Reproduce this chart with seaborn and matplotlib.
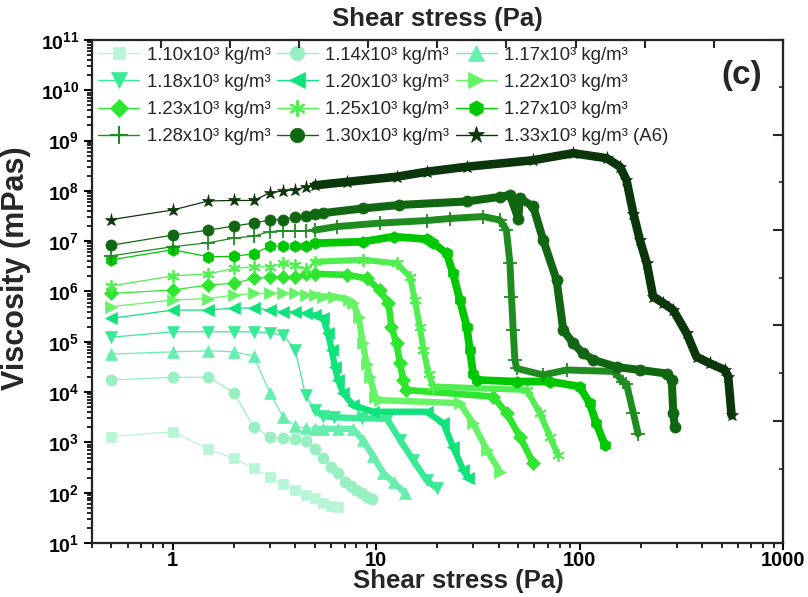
import numpy as np
import pandas as pd
import matplotlib
matplotlib.use("Agg")
import matplotlib.pyplot as plt
from matplotlib.ticker import FixedLocator, LogLocator, NullFormatter, FuncFormatter
from matplotlib.lines import Line2D
import seaborn as sns

# ---- data: shear stress (Pa) and viscosity (mPas) per slurry density ----
densities = ["1.10", "1.14", "1.17", "1.18", "1.20", "1.22",
             "1.23", "1.25", "1.27", "1.28", "1.30", "1.33"]

stress_110 = [0.5, 1.0, 1.5, 2.0, 2.5, 3.0, 3.5, 4.0, 4.5, 5.0, 5.5, 6.0, 6.5]
visc_110 = [1300, 1630, 730, 480, 305, 208, 148, 112, 90, 77, 63, 55, 51]

stress_114 = [0.5, 1.0, 1.5, 2.0, 2.5, 3.0, 3.5, 4.0, 4.5, 5.0, 5.5, 6.0, 6.5,
              7.0, 7.5, 8.0, 8.5, 9.0, 9.5]
visc_114 = [17400, 19700, 19700, 9800, 2040, 1290, 1200, 1150, 1070, 740, 480,
            330, 243, 166, 135, 112, 98, 83, 74]

stress_117 = [0.5, 1.0, 1.5, 2.0, 2.5, 3.0, 3.5, 4.0, 4.5, 5.0, 5.5, 6.5, 7.7,
              8.6, 9.7, 10.85, 12.2, 13.9]
visc_117 = [57100, 63100, 66100, 63100, 52500, 9800, 3160, 2140, 1900, 1870,
            1860, 1860, 1860, 1120, 525, 245, 160, 98]

stress_118 = [0.5, 1.0, 1.5, 2.0, 2.5, 3.0, 3.5, 4.0, 4.5, 5.0, 5.5, 6.2, 8.5,
              11.3, 13.1, 15.2, 17.7, 19.9]
visc_118 = [123000, 158000, 158000, 158000, 158000, 151000, 135000, 69200,
            8710, 4370, 3310, 3160, 3020, 2950, 1120, 447, 178, 123]

stress_120 = [0.5, 1.0, 1.5, 2.0, 2.5, 3.0, 3.5, 4.0, 4.5, 5.0, 5.5, 5.8, 6.05,
              6.27, 6.5, 6.9, 7.7, 9.7, 17.7, 21.4, 23.9, 26.8, 28.4]
visc_120 = [293000, 427000, 427000, 468000, 468000, 427000, 398000, 398000,
            372000, 339000, 295000, 148000, 69200, 31600, 17400, 9550, 5500,
            4070, 4070, 2400, 813, 282, 195]

stress_122 = [0.5, 1.0, 1.5, 2.0, 2.5, 3.0, 3.5, 4.0, 4.5, 5.0, 5.5, 6.2, 7.4,
              7.7, 8.2, 8.6, 9.0, 9.3, 9.9, 10.4, 25.8, 30.0, 35.0, 40.6]
visc_122 = [501000, 676000, 724000, 851000, 912000, 912000, 933000, 912000,
            851000, 851000, 794000, 794000, 676000, 589000, 316000, 93300,
            35500, 20400, 8130, 6920, 6030, 2400, 708, 263]

stress_123 = [0.5, 1.0, 1.5, 2.0, 2.5, 3.0, 3.5, 4.0, 4.5, 5.0, 7.2, 9.0, 10.4,
              11.5, 11.9, 12.6, 13.1, 13.6, 14.1, 37.7, 43.8, 51.0, 59.2]
visc_123 = [912000, 1070000, 1350000, 1450000, 1820000, 1910000, 1950000,
            1950000, 2240000, 2240000, 2140000, 1820000, 1070000, 589000,
            200000, 93300, 37200, 17400, 11000, 8130, 3800, 1290, 385]

stress_125 = [0.5, 1.0, 1.5, 2.0, 2.5, 3.0, 3.5, 4.0, 4.5, 5.0, 8.6, 12.6, 14.7,
              15.5, 16.4, 17.1, 18.1, 19.1, 55.0, 63.9, 71.6, 78.3]
visc_125 = [1290000, 2040000, 2240000, 2880000, 3090000, 3090000, 3720000,
            3310000, 2750000, 3890000, 4270000, 3630000, 1950000, 676000,
            200000, 69200, 23400, 12900, 11000, 3800, 1290, 562]

stress_127 = [0.5, 1.0, 1.5, 2.0, 2.5, 3.0, 3.5, 4.0, 4.5, 5.0, 8.6, 12.2, 17.7,
              19.1, 22.2, 23.9, 25.8, 27.9, 28.9, 30.0, 31.2, 49.1, 71.6, 100,
              112, 121, 133]
visc_127 = [4270000, 6760000, 4900000, 5010000, 5620000, 7940000, 7940000,
            7940000, 7940000, 9120000, 9770000, 12300000, 11000000, 9120000,
            5750000, 2290000, 676000, 200000, 69200, 23400, 17400, 16200,
            16200, 12900, 6030, 2400, 891]

stress_128 = [0.5, 1.0, 1.5, 2.0, 2.5, 3.0, 3.5, 4.0, 4.5, 5.0, 6.4, 10.4, 17.7,
              23.0, 33.6, 40.6, 43.7, 45.5, 46.3, 47.2, 48.1, 49.1, 66.3, 86.4,
              147, 164, 170, 184, 194]
visc_128 = [5130000, 7760000, 9330000, 11500000, 12600000, 15500000, 16200000,
            15800000, 16200000, 16600000, 19500000, 22900000, 25700000,
            28200000, 30900000, 26300000, 16600000, 3630000, 794000, 170000,
            43700, 29500, 21900, 27500, 25700, 16200, 14800, 3800, 1480]

stress_130 = [0.5, 1.0, 1.5, 2.0, 2.5, 3.0, 3.5, 4.0, 4.5, 5.0, 5.5, 8.6, 13.0,
              27.9, 40.6, 45.5, 50.0, 50.9, 59.2, 66.3, 77.1, 83.2, 93.1, 104,
              117, 152, 198, 268, 284, 289, 294]
visc_130 = [8320000, 13200000, 16600000, 20000000, 22900000, 26300000,
            26900000, 30200000, 31600000, 34700000, 36300000, 44700000,
            52500000, 61700000, 75900000, 83200000, 28200000, 70800000,
            49000000, 10500000, 1700000, 170000, 93300, 58900, 43700, 31600,
            27500, 23400, 17400, 3800, 2040]

stress_133 = [0.5, 1.0, 1.5, 2.0, 2.5, 3.0, 3.5, 4.0, 4.5, 5.0, 7.2, 12.6, 17.7,
              27.9, 59, 93, 136, 158, 170, 184, 198, 214, 230, 258, 289, 336,
              376, 437, 518, 538, 559]
visc_133 = [26900000, 41700000, 63100000, 64600000, 64600000, 91200000,
            100000000, 105000000, 120000000, 129000000, 151000000, 191000000,
            240000000, 302000000, 407000000, 562000000, 447000000, 302000000,
            166000000, 35500000, 10500000, 3630000, 794000, 589000, 427000,
            148000, 50100, 37200, 27500, 20400, 3470]

stress_all = [stress_110, stress_114, stress_117, stress_118, stress_120,
              stress_122, stress_123, stress_125, stress_127, stress_128,
              stress_130, stress_133]
visc_all = [visc_110, visc_114, visc_117, visc_118, visc_120, visc_122,
            visc_123, visc_125, visc_127, visc_128, visc_130, visc_133]

x_tick_values = [1, 10, 100, 1000]
x_tick_labels = ["1", "10", "100", "1000"]

# ---- styling ----
colors = ["#b8f4d6", "#97efc2", "#68eeae", "#38e996", "#10e27c", "#66f466",
          "#2ee62e", "#50ee50", "#00c800", "#1f8c1f", "#116611", "#0a360a"]
markers = ["s", "o", "^", "v", "<", ">", "D", (6, 2, 0), "h", "+", "o", "*"]
msizes = [7, 8, 8.5, 8.5, 8.5, 8.5, 7, 9, 8.5, 10, 8, 9.5]
band_widths = [0, 0, 4.6, 4.6, 4.6, 4.6, 4.8, 4.4, 5.6, 5.0, 5.8, 6.2]

sns.set_theme(style="ticks")
plt.rcParams["font.family"] = ["Liberation Sans", "DejaVu Sans"]
plt.rcParams["mathtext.fontset"] = "custom"
plt.rcParams["mathtext.rm"] = "Liberation Sans"
plt.rcParams["mathtext.bf"] = "Liberation Sans:bold"

fig, ax = plt.subplots(figsize=(8.08, 5.97), dpi=100)
fig.subplots_adjust(left=0.1135, right=0.969, bottom=0.0905, top=0.933)
ax.set_xscale("log")
ax.set_yscale("log")

handles = []
labels = []
for i, d in enumerate(densities):
    df = pd.DataFrame({"stress": stress_all[i], "viscosity": visc_all[i]})
    col = colors[i]
    m = markers[i]
    hollow = m in ("+", (6, 2, 0))
    # the densely sampled part of each ramp renders as a thick band
    if band_widths[i] > 0:
        dense = df[df["stress"] >= 5.0]
        sns.lineplot(data=dense, x="stress", y="viscosity", ax=ax, color=col,
                     linewidth=band_widths[i], sort=False, estimator=None,
                     legend=False, solid_capstyle="round",
                     solid_joinstyle="round")
    sns.lineplot(data=df, x="stress", y="viscosity", ax=ax, color=col,
                 marker=m, markersize=msizes[i], linewidth=0.9,
                 markeredgecolor=col,
                 markeredgewidth=1.3 if hollow else 0.5,
                 sort=False, estimator=None, legend=False)
    lab = d + "x10³ kg/m³" + (" (A6)" if d == "1.33" else "")
    handles.append(Line2D([], [], color=col, marker=m, markersize=msizes[i] * 1.3,
                          markeredgecolor=col,
                          markeredgewidth=1.5 if hollow else 0.5, linewidth=1.0))
    labels.append(lab)

ax.set_xlim(0.4, 1000)
ax.set_ylim(10, 1e11)

# bottom axis
ax.xaxis.set_major_locator(FixedLocator(x_tick_values))
ax.set_xticklabels(x_tick_labels, fontweight="bold")
ax.xaxis.set_minor_locator(LogLocator(base=10, subs=np.arange(2, 10), numticks=20))
ax.xaxis.set_minor_formatter(NullFormatter())

# left axis
ax.yaxis.set_major_locator(LogLocator(base=10, numticks=20))
ax.yaxis.set_major_formatter(FuncFormatter(
    lambda v, _: r"$\mathbf{10^{%d}}$" % int(round(np.log10(v)))))
ax.yaxis.set_minor_locator(LogLocator(base=10, subs=np.arange(2, 10), numticks=20))
ax.yaxis.set_minor_formatter(NullFormatter())

ax.tick_params(axis="x", which="major", direction="out", length=5, width=1.5,
               colors="black", labelsize=14.5, pad=1)
ax.tick_params(axis="y", which="major", direction="out", length=6, width=1.5,
               colors="black", labelsize=14, pad=3)
ax.tick_params(axis="both", which="minor", direction="out", length=3.5, width=1.2,
               colors="black")
for s in ax.spines.values():
    s.set_linewidth(1.6)
    s.set_color("black")
    s.set_visible(True)

ax.set_xlabel("Shear stress (Pa)", fontsize=18.5, fontweight="bold")
ax.xaxis.set_label_coords(0.53, -0.052)
ax.set_ylabel("Viscosity (mPas)", fontsize=22, fontweight="bold")
ax.yaxis.set_label_coords(-0.088, 0.547)

# top axis with its own linear tick marks
ax_top = ax.twiny()
ax_top.set_xlim(0, 1000)
ax_top.set_xticks(np.arange(0, 1001, 100))
ax_top.tick_params(axis="x", direction="in", length=6, width=1.5,
                   labeltop=False, top=True, bottom=False)
ax_top.set_xlabel("Shear stress (Pa)", fontsize=18.5, fontweight="bold",
                  labelpad=10)
ax_top.grid(False)

# right axis tick marks
ax_r = ax.twinx()
ax_r.set_ylim(0, 1)
ax_r.set_yticks([0.243, 0.433, 0.622, 0.812, 1.0])
ax_r.set_yticks([0.148, 0.338, 0.527, 0.717, 0.906], minor=True)
ax_r.tick_params(axis="y", which="major", direction="in", length=7, width=1.5,
                 labelright=False, right=True, left=False)
ax_r.tick_params(axis="y", which="minor", direction="in", length=3, width=1.2,
                 labelright=False, right=True, left=False)
ax_r.grid(False)
ax.grid(False)

# legend entries read row by row across three columns
order = [0, 3, 6, 9, 1, 4, 7, 10, 2, 5, 8, 11]
ax.legend([handles[k] for k in order], [labels[k] for k in order], ncol=3,
          loc="upper left", bbox_to_anchor=(0.0, 1.0), frameon=False,
          fontsize=13.4, handlelength=2.2, handletextpad=0.4,
          columnspacing=0.35, labelspacing=0.55, borderaxespad=0.1,
          borderpad=0.25, numpoints=1)

ax.text(0.941, 0.93, "(c)", transform=ax.transAxes, fontsize=24,
        fontweight="bold", ha="center", va="center")

fig.savefig("out.png", dpi=100)
